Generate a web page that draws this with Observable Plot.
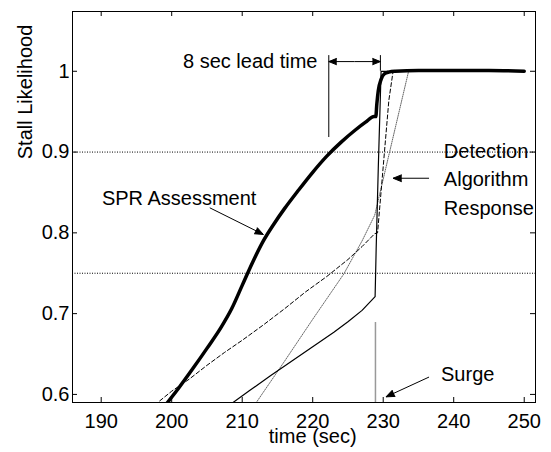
<!DOCTYPE html>
<html>
<head>
<meta charset="utf-8">
<script src="https://cdn.jsdelivr.net/npm/d3@7"></script>
<script src="https://cdn.jsdelivr.net/npm/@observablehq/plot@0.6"></script>
<style>
  body { margin: 0; background: #fff; }
  #chart svg { display: block; }
</style>
</head>
<body>
<div id="chart"></div>
<script>
// ---- data ----
const xTicks = [190, 200, 210, 220, 230, 240, 250];
const yTicks = [0.6, 0.7, 0.8, 0.9, 1];
const yTickLabels = ["0.6", "0.7", "0.8", "0.9", "1"];

// SPR assessment (thick solid)
const sprTime = [199.4, 201, 203, 205, 207, 208.5, 210, 211.5, 213, 214.5, 216, 218, 220, 222, 224, 226, 227.5, 228.7, 228.95, 229.1, 229.3, 229.7, 230.2, 230.8, 231.7, 235, 240, 245, 250];
const sprLikelihood = [0.59, 0.608, 0.632, 0.657, 0.683, 0.706, 0.735, 0.764, 0.79, 0.811, 0.83, 0.853, 0.875, 0.895, 0.912, 0.927, 0.937, 0.944, 0.944, 0.96, 0.976, 0.99, 0.997, 0.999, 1.0, 1.001, 1.001, 1.001, 1.0];

// detection algorithm response (thin solid)
const detTime = [208.7, 211, 214, 217, 220, 223, 225, 227, 228.85, 229.0, 229.3, 229.6, 229.7, 250];
const detLikelihood = [0.59, 0.6045, 0.623, 0.641, 0.659, 0.677, 0.69, 0.704, 0.721, 0.78, 0.88, 0.97, 1.0, 1.0];

// dashed series
const dashTime = [198.3, 200, 202.5, 205, 207.5, 210, 213, 216, 219, 222, 225, 227, 228.8, 229.2, 230.8, 231.4, 250];
const dashLikelihood = [0.592, 0.604, 0.619, 0.636, 0.652, 0.667, 0.686, 0.706, 0.727, 0.746, 0.767, 0.783, 0.799, 0.80, 0.964, 1.0, 1.0];

// dotted grey series
const dotTime = [212.0, 216, 220, 224.4, 227, 228.8, 233.6, 250];
const dotLikelihood = [0.59, 0.641, 0.693, 0.749, 0.79, 0.822, 1.0, 1.0];

// thresholds
const thresholds = [0.9, 0.75];

// surge marker
const surgeTime = [228.9];
const surgeTop = [0.689];

// annotations
const leadBracketX = [222.28, 229.6];
const leadBracketTop = [1.0194, 1.0194];
const leadBracketBottom = [0.918, 1.0];
const leadArrowY = 1.012;
const leadLabel = "8 sec lead time";
const leadLabelX = 201.6;

const sprLabel = "SPR Assessment";
const sprLabelPos = [190.1, 0.842];
const sprArrow = [205.4, 0.831, 213.0, 0.798];

const detLabel = "Detection\nAlgorithm\nResponse";
const detLabelPos = [238.6, 0.869];
const detArrow = [236.5, 0.8676, 231.4, 0.8676];

const surgeLabel = "Surge";
const surgeLabelPos = [238.2, 0.624];
const surgeArrow = [236.5, 0.6215, 230.4, 0.597];

const xLabel = "time (sec)";
const xLabelX = 220;
const yLabel = "Stall Likelihood";
const yLabelPos = [179.31, 0.9744];

// ---- build ----
const zipXY = (xs, ys) => xs.map((x, i) => ({x, y: ys[i]}));
const spr = zipXY(sprTime, sprLikelihood);
const det = zipXY(detTime, detLikelihood);
const dash = zipXY(dashTime, dashLikelihood);
const dot = zipXY(dotTime, dotLikelihood);
const leadMid = (leadBracketX[0] + leadBracketX[1]) / 2;

const W = 551, H = 452, mL = 72, mR = 16, mT = 11, mB = 50;
const plotW = W - mL - mR, plotH = H - mT - mB, tickLen = 5;
const font = "'Liberation Sans', Arial, Helvetica, sans-serif";
const arrowOpts = {stroke: "black", fill: "black", strokeWidth: 1, headLength: 14, headAngle: 44, strokeLinecap: "butt", strokeLinejoin: "miter", strokeMiterlimit: 4};

const chart = Plot.plot({
  width: W, height: H,
  marginLeft: mL, marginRight: mR, marginTop: mT, marginBottom: mB,
  style: {fontFamily: font, fontSize: "20px", background: "#fff", color: "black", overflow: "visible"},
  x: {domain: [185.93, 251.6], ticks: xTicks, tickSize: 0, tickPadding: 11, label: null},
  y: {domain: [0.59, 1.074], ticks: yTicks, tickSize: 0, tickPadding: 3, label: null,
      tickFormat: d => yTickLabels[yTicks.findIndex(t => Math.abs(t - d) < 1e-9)]},
  marks: [
    // thresholds
    Plot.ruleY(thresholds, {stroke: "black", strokeWidth: 1, strokeDasharray: "1,1.5"}),
    // surge
    Plot.ruleX(surgeTime, {x: d => d, y1: 0.59, y2: (d, i) => surgeTop[i], stroke: "#999", strokeWidth: 1.5}),
    // series
    Plot.line(dot, {x: "x", y: "y", stroke: "#666", strokeWidth: 1, strokeDasharray: "1,1.2", clip: true}),
    Plot.line(dash, {x: "x", y: "y", stroke: "black", strokeWidth: 1, strokeDasharray: "4,2.5", clip: true}),
    Plot.line(det, {x: "x", y: "y", stroke: "black", strokeWidth: 1.2, clip: true}),
    Plot.line(spr, {x: "x", y: "y", stroke: "black", strokeWidth: 3.5, curve: "monotone-x", clip: true}),
    // lead time bracket
    Plot.ruleX(leadBracketX, {x: d => d, y1: (d, i) => leadBracketTop[i], y2: (d, i) => leadBracketBottom[i], stroke: "black", strokeWidth: 1}),
    Plot.arrow([0, 1], {x1: () => leadMid, y1: () => leadArrowY, x2: i => leadBracketX[i], y2: () => leadArrowY, ...arrowOpts}),
    Plot.text([leadLabel], {x: () => leadLabelX, y: () => leadArrowY, text: d => d, textAnchor: "start", fill: "black"}),
    // SPR label
    Plot.text([sprLabel], {x: () => sprLabelPos[0], y: () => sprLabelPos[1], text: d => d, textAnchor: "start", fill: "black"}),
    Plot.arrow([sprArrow], {x1: d => d[0], y1: d => d[1], x2: d => d[2], y2: d => d[3], ...arrowOpts}),
    // Detection label
    Plot.text([detLabel], {x: () => detLabelPos[0], y: () => detLabelPos[1], text: d => d, textAnchor: "start", lineHeight: 1.435, fill: "black"}),
    Plot.arrow([detArrow], {x1: d => d[0], y1: d => d[1], x2: d => d[2], y2: d => d[3], ...arrowOpts}),
    // Surge label
    Plot.text([surgeLabel], {x: () => surgeLabelPos[0], y: () => surgeLabelPos[1], text: d => d, textAnchor: "start", fill: "black"}),
    Plot.arrow([surgeArrow], {x1: d => d[0], y1: d => d[1], x2: d => d[2], y2: d => d[3], ...arrowOpts}),
    // inward ticks on all four sides
    Plot.tickX(xTicks, {x: d => d, insetTop: plotH - tickLen, stroke: "black"}),
    Plot.tickX(xTicks, {x: d => d, insetBottom: plotH - tickLen, stroke: "black"}),
    Plot.tickY(yTicks, {y: d => d, insetRight: plotW - tickLen, stroke: "black"}),
    Plot.tickY(yTicks, {y: d => d, insetLeft: plotW - tickLen, stroke: "black"}),
    Plot.frame({stroke: "black", strokeWidth: 1}),
    // axis titles
    Plot.text([xLabel], {x: () => xLabelX, frameAnchor: "bottom", dy: 40, text: d => d, fill: "black"}),
    Plot.text([yLabel], {x: () => yLabelPos[0], y: () => yLabelPos[1], rotate: -90, text: d => d, fill: "black"})
  ]
});
document.getElementById("chart").appendChild(chart);
</script>
</body>
</html>
